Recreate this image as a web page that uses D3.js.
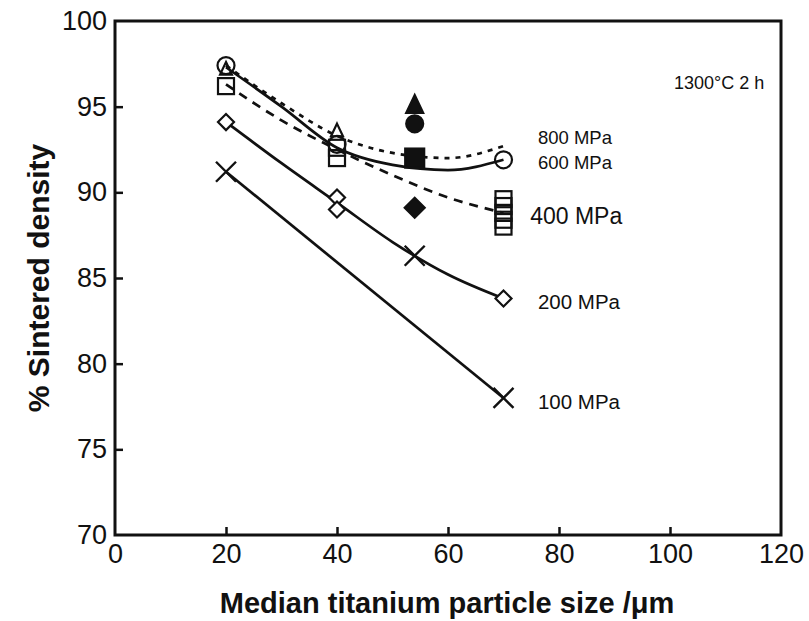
<!DOCTYPE html>
<html>
<head>
<meta charset="utf-8">
<script src="https://cdn.jsdelivr.net/npm/d3@7"></script>
<style>
  body { margin: 0; background: #fff; }
  text { font-family: "Liberation Sans", Arial, sans-serif; fill: #111; }
</style>
</head>
<body>
<svg id="mainsvg" width="809" height="621"></svg>
<script>
// tick values
const xTicks = [0, 20, 40, 60, 80, 100, 120]
const yTicks = [70, 75, 80, 85, 90, 95, 100]

// measured points (open markers)
const pts100 = [[20, 91.2], [54, 86.3], [70, 78.0]]
const pts200 = [[20, 94.1], [40, 89.7], [40, 89.0], [70, 83.8]]
const pts400 = [[20, 96.2], [40, 92.6], [40, 92.0], [70, 89.6], [70, 89.2], [70, 88.8], [70, 88.4], [70, 88.0]]
const pts600 = [[20, 97.4], [40, 92.8], [70, 91.9]]
const pts800 = [[20, 97.2], [40, 93.6]]

// filled markers at 54 um
const filled = [
  {x: 54, y: 95.1, shape: 'triangle'},
  {x: 54, y: 94.0, shape: 'circle'},
  {x: 54, y: 92.0, shape: 'square'},
  {x: 54, y: 89.1, shape: 'diamond'}
]

// fitted curves
const fitX = [20, 30, 40, 50, 60, 70]
const fit800 = [97.4, 95.2, 93.3, 92.3, 92.0, 92.7]
const fit600 = [97.3, 95.0, 92.6, 91.6, 91.3, 91.9]
const fit400 = [96.3, 94.2, 92.5, 91.0, 89.7, 88.8]
const fit200 = [94.1, 91.7, 89.4, 87.1, 85.2, 83.8]
const fit100X = [20, 70]
const fit100 = [91.2, 78.0]

// curve labels
const labels = [
  {text: '800 MPa', x: 76.2, y: 93.2, size: 18.5},
  {text: '600 MPa', x: 76.2, y: 91.75, size: 18.5},
  {text: '400 MPa', x: 74.8, y: 88.6, size: 23},
  {text: '200 MPa', x: 76.2, y: 83.6, size: 20.5},
  {text: '100 MPa', x: 76.2, y: 77.8, size: 20.5}
]

const margin = {left: 115, top: 21, right: 28, bottom: 86}
const width = 809, height = 621
const x = d3.scaleLinear().domain([0, 120]).range([margin.left, width - margin.right])
const y = d3.scaleLinear().domain([70, 100]).range([height - margin.bottom, margin.top])

const svg = d3.select('#mainsvg')
const g = svg.append('g')

// frame
g.append('rect')
  .attr('x', x(0)).attr('y', y(100))
  .attr('width', x(120) - x(0)).attr('height', y(70) - y(100))
  .attr('fill', 'none').attr('stroke', '#111').attr('stroke-width', 3)

const xAxis = g.append('g').attr('transform', `translate(0,${y(70)})`)
  .call(d3.axisBottom(x).tickValues(xTicks).tickSizeInner(-8).tickSizeOuter(0).tickPadding(9))
xAxis.select('.domain').remove()
xAxis.selectAll('line').attr('stroke', '#111').attr('stroke-width', 2.5)
xAxis.selectAll('text').attr('font-size', 27).attr('fill', '#111')
  .style('font-family', '"Liberation Sans", Arial, sans-serif')

const yAxis = g.append('g').attr('transform', `translate(${x(0)},0)`)
  .call(d3.axisLeft(y).tickValues(yTicks).tickSizeInner(-8).tickSizeOuter(0).tickPadding(8))
yAxis.select('.domain').remove()
yAxis.selectAll('line').attr('stroke', '#111').attr('stroke-width', 2.5)
yAxis.selectAll('text').attr('font-size', 27).attr('fill', '#111')
  .style('font-family', '"Liberation Sans", Arial, sans-serif')
// hide end ticks that sit on the frame
xAxis.selectAll('.tick').filter(d => d === 0 || d === 120).select('line').remove()
yAxis.selectAll('.tick').filter(d => d === 70 || d === 100).select('line').remove()

// axis titles
g.append('text')
  .attr('x', (x(0) + x(120)) / 2 - 1).attr('y', 613)
  .attr('text-anchor', 'middle').attr('font-size', 29).attr('font-weight', 'bold')
  .text('Median titanium particle size /μm')
g.append('text')
  .attr('transform', `translate(49,${(y(70) + y(100)) / 2}) rotate(-90)`)
  .attr('text-anchor', 'middle').attr('font-size', 30).attr('font-weight', 'bold')
  .text('% Sintered density')

// curves
const line = d3.line().x(d => x(d[0])).y(d => y(d[1])).curve(d3.curveMonotoneX)
const curves = [
  {xs: fitX, ys: fit800, dash: '5,6', w: 2.7},
  {xs: fitX, ys: fit600, dash: null, w: 2.7},
  {xs: fitX, ys: fit400, dash: '9,7', w: 2.7},
  {xs: fitX, ys: fit200, dash: null, w: 2.7},
  {xs: fit100X, ys: fit100, dash: null, w: 2.7}
]
curves.forEach(c => {
  g.append('path')
    .datum(c.xs.map((v, i) => [v, c.ys[i]]))
    .attr('d', line)
    .attr('fill', 'none').attr('stroke', '#111')
    .attr('stroke-width', c.w)
    .attr('stroke-dasharray', c.dash)
})

// markers
function marker(sel, shape, filledMark) {
  const fillOpen = filledMark ? '#111' : 'none'
  if (shape === 'circle') {
    sel.append('circle').attr('r', 8.5).attr('fill', fillOpen).attr('stroke', '#111').attr('stroke-width', 2.2)
  } else if (shape === 'square') {
    const s = filledMark ? 19 : 16
    sel.append('rect').attr('x', -s / 2).attr('y', -s / 2).attr('width', s).attr('height', s)
      .attr('fill', fillOpen).attr('stroke', '#111').attr('stroke-width', 2.2)
  } else if (shape === 'diamond') {
    const s = filledMark ? 10 : 8
    sel.append('path').attr('d', `M0,${-s} L${s},0 L0,${s} L${-s},0 Z`)
      .attr('fill', filledMark ? '#111' : '#fff').attr('stroke', '#111').attr('stroke-width', 2.2)
  } else if (shape === 'triangle') {
    const s = filledMark ? 10 : 7
    sel.append('path').attr('d', `M0,${-s} L${s * 0.85},${s * 0.8} L${-s * 0.85},${s * 0.8} Z`)
      .attr('fill', fillOpen).attr('stroke', '#111').attr('stroke-width', 2.2)
  } else if (shape === 'cross') {
    const s = 10
    sel.append('path').attr('d', `M${-s},${-s} L${s},${s} M${-s},${s} L${s},${-s}`)
      .attr('stroke', '#111').attr('stroke-width', 2.4).attr('fill', 'none')
  }
}

const sets = [
  {pts: pts100, shape: 'cross'},
  {pts: pts200, shape: 'diamond'},
  {pts: pts400, shape: 'square'},
  {pts: pts600, shape: 'circle'},
  {pts: pts800, shape: 'triangle'}
]
sets.forEach(s => {
  s.pts.forEach(p => {
    const m = g.append('g').attr('transform', `translate(${x(p[0])},${y(p[1])})`)
    marker(m, s.shape, false)
  })
})
filled.forEach(p => {
  const m = g.append('g').attr('transform', `translate(${x(p.x)},${y(p.y)})`)
  marker(m, p.shape, true)
})

// labels
labels.forEach(l => {
  g.append('text')
    .attr('x', x(l.x)).attr('y', y(l.y))
    .attr('dy', '0.35em').attr('font-size', l.size)
    .text(l.text)
})
g.append('text')
  .attr('x', x(117)).attr('y', y(96.4)).attr('dy', '0.35em')
  .attr('text-anchor', 'end').attr('font-size', 18)
  .text('1300°C  2 h')
</script>
</body>
</html>
